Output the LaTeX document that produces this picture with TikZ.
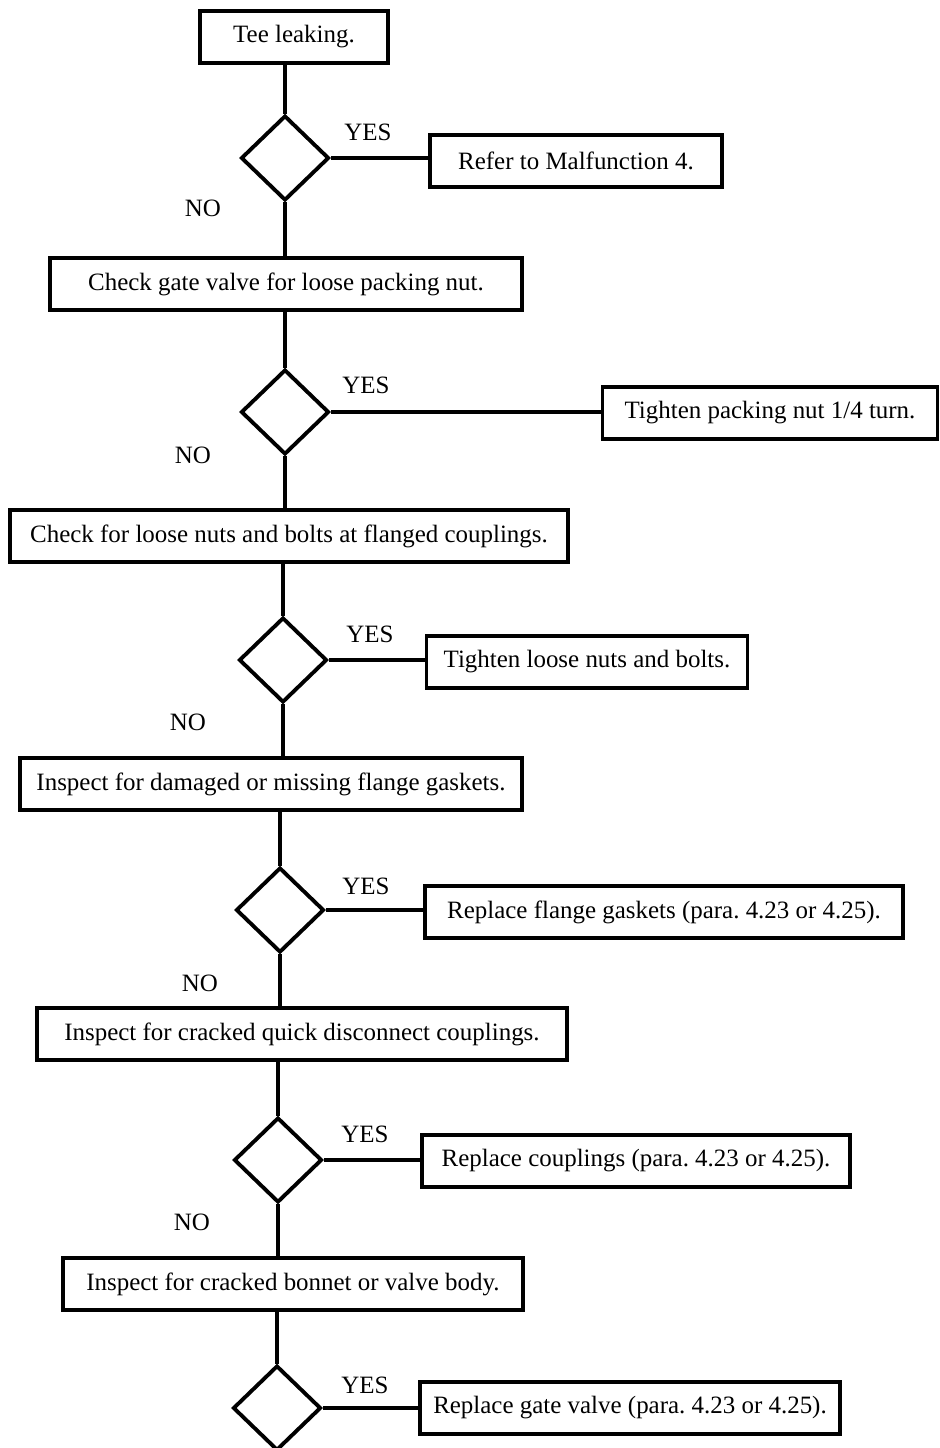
\documentclass[tikz,border=0pt]{standalone}
\usepackage{fontspec}
\setmainfont{Liberation Serif}
\usetikzlibrary{shapes.geometric}

\tikzset{
  stepbox/.style={draw, line width=2.2pt, minimum height=1.04cm, inner sep=0pt},
  testdiam/.style={draw, diamond, line width=2.2pt, minimum width=1.76cm, minimum height=1.70cm, inner sep=0pt},
  wire/.style={line width=2.2pt},
}

\begin{document}
\frenchspacing
\begin{tikzpicture}[x=0.02cm, y=-0.02cm, font=\fontsize{14.2}{17}\selectfont]
  \useasboundingbox (0,0) rectangle (940,1448);

  % main column
  \node[stepbox, minimum width=3.76cm] (tee) at (294,37) {Tee leaking.};
  \node[testdiam] (q1) at (285,158) {};
  \node[stepbox, minimum width=9.44cm] (gate) at (286,284) {Check gate valve for loose packing nut.};
  \node[testdiam] (q2) at (285,412) {};
  \node[stepbox, minimum width=11.16cm] (bolts) at (289,536) {Check for loose nuts and bolts at flanged couplings.};
  \node[testdiam] (q3) at (283,660) {};
  \node[stepbox, minimum width=10.04cm] (gasket) at (271,784) {Inspect for damaged or missing flange gaskets.};
  \node[testdiam] (q4) at (280,910) {};
  \node[stepbox, minimum width=10.6cm] (quick) at (302,1034) {Inspect for cracked quick disconnect couplings.};
  \node[testdiam] (q5) at (278,1160) {};
  \node[stepbox, minimum width=9.2cm] (bonnet) at (293,1284) {Inspect for cracked bonnet or valve body.};
  \node[testdiam] (q6) at (277,1408) {};

  % remedies
  \node[stepbox, minimum width=5.84cm] (mal) at (576,161) {Refer to Malfunction 4.};
  \node[stepbox, minimum width=6.7cm] (pack) at (770,413) {Tighten packing nut 1/4 turn.};
  \node[stepbox, minimum width=6.42cm] (nuts) at (587,662) {Tighten loose nuts and bolts.};
  \node[stepbox, minimum width=9.56cm] (flange) at (664,912) {Replace flange gaskets (para. 4.23 or 4.25).};
  \node[stepbox, minimum width=8.56cm] (coupl) at (636,1161) {Replace couplings (para. 4.23 or 4.25).};
  \node[stepbox, minimum width=8.4cm] (valve) at (630,1408) {Replace gate valve (para. 4.23 or 4.25).};

  % answers
  \node (y1) at (368,132) {YES};
  \node (n1) at (203,208) {NO};
  \node (y2) at (366,385) {YES};
  \node (n2) at (193,455) {NO};
  \node (y3) at (370,634) {YES};
  \node (n3) at (188,722) {NO};
  \node (y4) at (366,886) {YES};
  \node (n4) at (200,983) {NO};
  \node (y5) at (365,1134) {YES};
  \node (n5) at (192,1222) {NO};
  \node (y6) at (365,1385) {YES};

  % connectors
  \draw[wire] (q1.north) -- (q1.north |- tee.south);
  \draw[wire] (q1.south) -- (q1.south |- gate.north);
  \draw[wire] (q2.north) -- (q2.north |- gate.south);
  \draw[wire] (q2.south) -- (q2.south |- bolts.north);
  \draw[wire] (q3.north) -- (q3.north |- bolts.south);
  \draw[wire] (q3.south) -- (q3.south |- gasket.north);
  \draw[wire] (q4.north) -- (q4.north |- gasket.south);
  \draw[wire] (q4.south) -- (q4.south |- quick.north);
  \draw[wire] (q5.north) -- (q5.north |- quick.south);
  \draw[wire] (q5.south) -- (q5.south |- bonnet.north);
  \draw[wire] (q6.north) -- (q6.north |- bonnet.south);

  \draw[wire] (q1.east) -- (q1.east -| mal.west);
  \draw[wire] (q2.east) -- (q2.east -| pack.west);
  \draw[wire] (q3.east) -- (q3.east -| nuts.west);
  \draw[wire] (q4.east) -- (q4.east -| flange.west);
  \draw[wire] (q5.east) -- (q5.east -| coupl.west);
  \draw[wire] (q6.east) -- (q6.east -| valve.west);
\end{tikzpicture}
\end{document}
